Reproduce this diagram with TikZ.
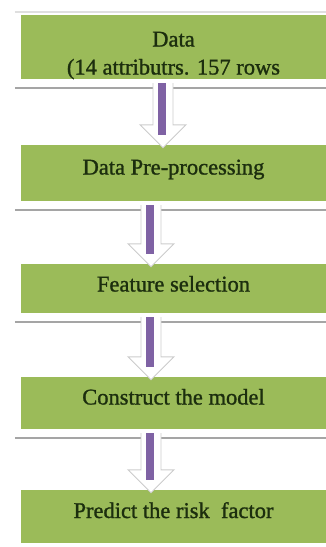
\documentclass[tikz,border=0pt]{standalone}
\usepackage{fontspec}
\setmainfont{Liberation Serif}
\newfontfamily\boxfont{Liberation Serif}[BoldFont={Liberation Serif},BoldFeatures={FakeBold=1.2}]
\usetikzlibrary{calc}
\definecolor{boxgreen}{HTML}{9BBB59}
\definecolor{shaftpurple}{HTML}{7F62A4}
\definecolor{edgegray}{HTML}{A5A5A5}
\definecolor{textgreen}{HTML}{1C2E0E}

\begin{document}
\begin{tikzpicture}[x=1pt,y=-1pt,
  stepbox/.style={fill=boxgreen,minimum width=305pt,inner sep=0pt,align=center,
    text=textgreen,text height=15pt,text depth=12pt,
    font=\boxfont\bfseries\fontsize{22.5}{28}\selectfont},
  shelf/.style={edgegray,line width=2.5pt},
  arrowbody/.style={fill=white,draw=gray!40,line width=0.9pt,line join=miter},
  shaft/.style={shaftpurple,line width=8pt}]
 \useasboundingbox (0,0) rectangle (326,547);
 % boxes
 \node[stepbox,minimum height=64pt,text height=59pt,text depth=4pt] (data) at (173.5,47) {Data\\(14 attributrs. 157 rows};
 \node[stepbox,minimum height=56pt] (prep) at (173.5,173) {Data Pre-processing};
 \node[stepbox,minimum height=49pt,text depth=9pt] (feat) at (173.5,288.5) {Feature selection};
 \node[stepbox,minimum height=52pt] (model) at (173.5,403) {Construct the model};
 \node[stepbox,minimum height=53pt] (risk) at (173.5,516.5) {Predict the risk\ \ factor};
 % shelves under the boxes
 \draw[gray!25,line width=1.5pt] ($(data.north west)+(-6,-3)$) -- ($(data.north east)+(0,-3)$);
 \draw[shelf] ($(data.south west)+(-6,9)$) -- ($(data.south east)+(0,9)$);
 \draw[shelf] ($(prep.south west)+(-6,9)$) -- ($(prep.south east)+(0,9)$);
 \draw[shelf] ($(feat.south west)+(-6,9)$) -- ($(feat.south east)+(0,9)$);
 \draw[shelf] ($(model.south west)+(-6,9)$) -- ($(model.south east)+(0,9)$);
 % arrows
 \coordinate (a1) at (163,0);
 \coordinate (a2) at (151,0);
 \draw[arrowbody] ($(data.south -| a1)+(-10,4)$) -- ($(prep.north -| a1)+(-10,-20)$) -- ++(-13,0)
   -- ($(prep.north -| a1)+(0,3)$) -- ($(prep.north -| a1)+(23,-20)$) -- ++(-13,0) -- ($(data.south -| a1)+(10,4)$);
 \draw[shaft] ($(data.south -| a1)+(-1.5,4)$) -- ($(prep.north -| a1)+(-1.5,-10)$);
 \draw[arrowbody] ($(prep.south -| a2)+(-10,4)$) -- ($(feat.north -| a2)+(-10,-20)$) -- ++(-13,0)
   -- ($(feat.north -| a2)+(0,3)$) -- ($(feat.north -| a2)+(23,-20)$) -- ++(-13,0) -- ($(prep.south -| a2)+(10,4)$);
 \draw[shaft] ($(prep.south -| a2)+(-1.5,4)$) -- ($(feat.north -| a2)+(-1.5,-10)$);
 \draw[arrowbody] ($(feat.south -| a2)+(-10,4)$) -- ($(model.north -| a2)+(-10,-20)$) -- ++(-13,0)
   -- ($(model.north -| a2)+(0,3)$) -- ($(model.north -| a2)+(23,-20)$) -- ++(-13,0) -- ($(feat.south -| a2)+(10,4)$);
 \draw[shaft] ($(feat.south -| a2)+(-1.5,4)$) -- ($(model.north -| a2)+(-1.5,-10)$);
 \draw[arrowbody] ($(model.south -| a2)+(-10,4)$) -- ($(risk.north -| a2)+(-10,-20)$) -- ++(-13,0)
   -- ($(risk.north -| a2)+(0,3)$) -- ($(risk.north -| a2)+(23,-20)$) -- ++(-13,0) -- ($(model.south -| a2)+(10,4)$);
 \draw[shaft] ($(model.south -| a2)+(-1.5,4)$) -- ($(risk.north -| a2)+(-1.5,-10)$);
\end{tikzpicture}
\end{document}
